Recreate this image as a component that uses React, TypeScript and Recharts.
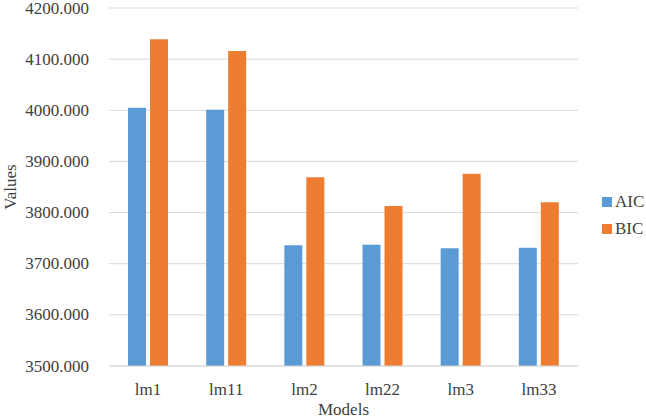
import React from 'react';
import { BarChart, Bar, XAxis, YAxis, CartesianGrid, Legend } from 'recharts';

const models = ['lm1', 'lm11', 'lm2', 'lm22', 'lm3', 'lm33'];
const aicValues = [4005, 4001, 3736, 3737, 3730, 3731];
const bicValues = [4139, 4116, 3869, 3813, 3876, 3820];
const yTicks = [3500, 3600, 3700, 3800, 3900, 4000, 4100, 4200];

const data = models.map((m, i) => ({ model: m, AIC: aicValues[i], BIC: bicValues[i] }));

const FONT = "'Liberation Serif', 'Times New Roman', serif";
const TEXT = '#404040';
const BLUE = '#5B9BD5';
const ORANGE = '#ED7D31';
const textStyle = { fontFamily: FONT, fontSize: 17, fill: TEXT } as React.CSSProperties;

const XTick = (props: any) => {
  const { x, y, payload } = props;
  return (
    <text x={x} y={y + 9} textAnchor="middle" dominantBaseline="middle" style={textStyle}>
      {payload.value}
    </text>
  );
};

const YTick = (props: any) => {
  const { x, y, payload } = props;
  return (
    <text x={x} y={y} textAnchor="end" dominantBaseline="central" style={textStyle}>
      {Number(payload.value).toFixed(3)}
    </text>
  );
};

const LegendContent = () => (
  <div style={{ fontFamily: FONT, fontSize: 17, color: TEXT }}>
    {[
      { name: 'AIC', color: BLUE },
      { name: 'BIC', color: ORANGE },
    ].map((it) => (
      <div key={it.name} style={{ display: 'flex', alignItems: 'center', height: 27 }}>
        <div style={{ width: 10, height: 10, background: it.color, marginRight: 3 }} />
        <span>{it.name}</span>
      </div>
    ))}
  </div>
);

export default function App() {
  return (
    <div style={{ position: 'absolute', left: 0, top: 0, fontFamily: FONT }}>
      <BarChart
        width={646}
        height={418}
        data={data}
        margin={{ top: 8, right: 68, bottom: 0, left: 0 }}
        barSize={18}
        barGap={4}
      >
        <CartesianGrid vertical={false} stroke="#d9d9d9" strokeWidth={1} />
        <XAxis
          dataKey="model"
          height={52}
          tickLine={false}
          axisLine={{ stroke: '#d9d9d9' }}
          tick={<XTick />}
          tickMargin={10}
          label={{ value: 'Models', position: 'insideBottom', offset: 3, style: textStyle }}
        />
        <YAxis
          width={109}
          domain={[3500, 4200]}
          ticks={yTicks}
          interval={0}
          axisLine={false}
          tickLine={false}
          tickMargin={14}
          tick={<YTick />}
          label={{ value: 'Values', angle: -90, position: 'insideLeft', offset: 10, textAnchor: 'middle', style: textStyle }}
        />
        <Legend
          layout="vertical"
          align="center"
          verticalAlign="middle"
          content={<LegendContent />}
          wrapperStyle={{ left: 602, top: 188, width: 44 }}
        />
        <Bar dataKey="AIC" fill={BLUE} isAnimationActive={false} />
        <Bar dataKey="BIC" fill={ORANGE} isAnimationActive={false} />
      </BarChart>
    </div>
  );
}
